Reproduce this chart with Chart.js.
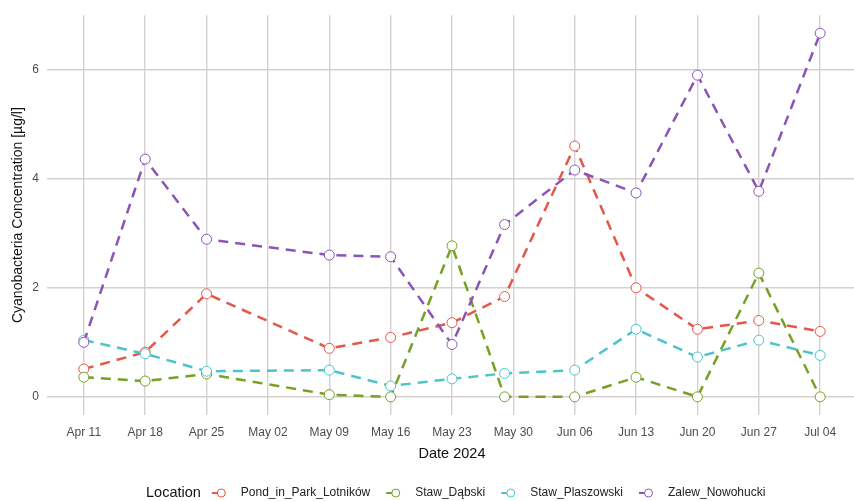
<!DOCTYPE html>
<html lang="en">
<head>
  <meta charset="UTF-8">
  <title>Cyanobacteria Concentration 2024</title>
  <script src="https://cdn.jsdelivr.net/npm/chart.js"></script>
  <style>
    html, body { margin: 0; padding: 0; background: #fff; overflow: hidden; }
    #wrap { width: 863px; height: 501px; }
  </style>
</head>
<body>
  <div id="wrap"><canvas id="chart" width="863" height="501"></canvas></div>

  <script>
    // days since Apr 11 2024 for each sample
    const sampleDays = [0, 7, 14, 28, 35, 42, 48, 56, 63, 70, 77, 84];
    const tickDays = [0, 7, 14, 21, 28, 35, 42, 49, 56, 63, 70, 77, 84];
    const tickLabels = ['Apr 11', 'Apr 18', 'Apr 25', 'May 02', 'May 09', 'May 16', 'May 23',
                        'May 30', 'Jun 06', 'Jun 13', 'Jun 20', 'Jun 27', 'Jul 04'];
    const yTicks = [0, 2, 4, 6];

    const locations = ['Pond_in_Park_Lotników', 'Staw_Dąbski', 'Staw_Plaszowski', 'Zalew_Nowohucki'];
    const pond = [0.51, 0.82, 1.89, 0.89, 1.09, 1.36, 1.84, 4.60, 2.00, 1.24, 1.40, 1.20];
    const dabski = [0.36, 0.29, 0.42, 0.04, 0.00, 2.77, 0.00, 0.00, 0.36, 0.00, 2.27, 0.00];
    const plaszowski = [1.04, 0.79, 0.47, 0.49, 0.20, 0.33, 0.43, 0.49, 1.24, 0.73, 1.04, 0.76];
    const nowohucki = [1.00, 4.36, 2.89, 2.60, 2.57, 0.96, 3.16, 4.16, 3.74, 5.90, 3.77, 6.67];
    const colors = ['#e4574a', '#76a124', '#4cc4cc', '#8b55b8'];

    const series = [pond, dabski, plaszowski, nowohucki];
    const datasets = series.map((vals, i) => ({
      label: locations[i],
      data: vals.map((v, k) => ({ x: sampleDays[k], y: v })),
      borderColor: colors[i],
      borderWidth: 2.5,
      borderDash: [10, 7],
      pointRadius: 5,
      pointBorderWidth: 1,
      pointBackgroundColor: '#fff',
      pointBorderColor: colors[i],
      order: series.length - i,
      tension: 0
    }));

    // ggplot style legend: "Location  -o label  -o label ..."
    const bottomLegend = {
      id: 'bottomLegend',
      afterDraw(chart) {
        const ctx = chart.ctx;
        const y = 493;
        let x = 146;
        ctx.save();
        ctx.textBaseline = 'middle';
        ctx.textAlign = 'left';
        ctx.fillStyle = '#111';
        ctx.font = '14.5px "Liberation Sans", Arial, sans-serif';
        ctx.fillText('Location', x, y);
        x += ctx.measureText('Location').width + 11;
        ctx.font = '12px "Liberation Sans", Arial, sans-serif';
        chart.data.datasets.forEach(ds => {
          ctx.strokeStyle = ds.borderColor;
          ctx.lineWidth = 2;
          ctx.beginPath();
          ctx.moveTo(x, y);
          ctx.lineTo(x + 7, y);
          ctx.stroke();
          ctx.lineWidth = 1;
          ctx.fillStyle = '#fff';
          ctx.beginPath();
          ctx.arc(x + 9.5, y, 4, 0, Math.PI * 2);
          ctx.fill();
          ctx.stroke();
          x += 29;
          ctx.fillStyle = '#222';
          ctx.fillText(ds.label, x, y);
          x += ctx.measureText(ds.label).width + 16;
        });
        ctx.restore();
      }
    };

    const gridColor = '#d6d0d0';
    const tickFont = { family: '"Liberation Sans", Arial, sans-serif', size: 12 };

    new Chart(document.getElementById('chart'), {
      type: 'line',
      data: { datasets },
      plugins: [bottomLegend],
      options: {
        responsive: false,
        animation: false,
        layout: { padding: { left: 0, right: 0, top: 15, bottom: 38 } },
        plugins: { legend: { display: false }, tooltip: { enabled: false } },
        scales: {
          x: {
            type: 'linear',
            min: -4.2,
            max: 88.2,
            afterBuildTicks: s => { s.ticks = tickDays.map(v => ({ value: v })); },
            afterFit: s => { s.height = 48; },
            ticks: {
              padding: 10,
              color: '#4d4d4d',
              font: tickFont,
              maxRotation: 0,
              autoSkip: false,
              callback: (v) => tickLabels[tickDays.indexOf(v)]
            },
            grid: { color: gridColor, lineWidth: 1.4, drawTicks: false },
            border: { display: false },
            title: {
              display: true,
              text: 'Date 2024',
              color: '#111',
              padding: 0,
              font: { family: '"Liberation Sans", Arial, sans-serif', size: 14.5 }
            }
          },
          y: {
            min: -0.333,
            max: 7.0,
            afterBuildTicks: s => { s.ticks = yTicks.map(v => ({ value: v })); },
            afterFit: s => { s.width = 47; },
            ticks: { padding: 8, color: '#4d4d4d', font: tickFont },
            grid: { color: gridColor, lineWidth: 1.4, drawTicks: false },
            border: { display: false },
            title: {
              display: true,
              text: 'Cyanobacteria Concentration [µg/l]',
              color: '#111',
              padding: { top: 10, bottom: 0 },
              font: { family: '"Liberation Sans", Arial, sans-serif', size: 14 }
            }
          }
        }
      }
    });
  </script>
</body>
</html>
